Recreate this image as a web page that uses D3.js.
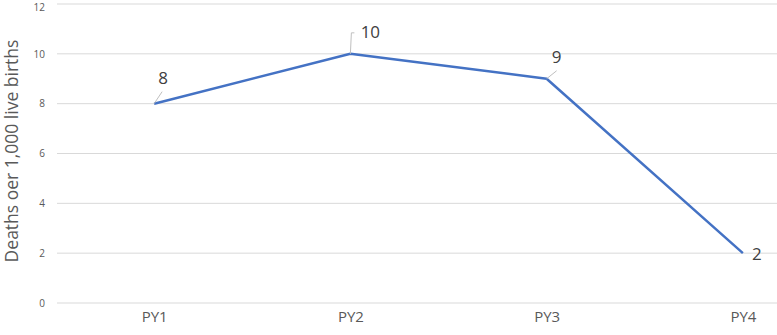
<!DOCTYPE html>
<html>
<head>
<script src="https://d3js.org/d3.v7.min.js"></script>
<style>
  body { margin: 0; background: #fff; }
  text { font-family: "Open Sans", Lato, sans-serif; }
</style>
</head>
<body>
<svg class="chart" width="777" height="335"></svg>
<script>
    var categories = ["PY1", "PY2", "PY3", "PY4"]
    var values = [8, 10, 9, 2]
    var yTicks = [0, 2, 4, 6, 8, 10, 12]

    var svg = d3.select("svg")

    var x = d3.scalePoint()
    .domain(categories)
    .range([56, 841])
    .padding(0.5)

    var y = d3.scaleLinear()
    .domain([0, 12])
    .range([303, 4])

    // gridlines
    svg.append("g").selectAll("line")
    .data(yTicks)
    .enter()
    .append("line")
    .attr("x1", 57).attr("x2", 777)
    .attr("y1", d => y(d)).attr("y2", d => y(d))
    .style("stroke", "#d9d9d9")
    .style("stroke-width", 1)

    // y axis labels
    var yAxis = d3.axisLeft(y).tickValues(yTicks).tickSize(0).tickPadding(0)
    var gy = svg.append("g").attr("transform", "translate(45,0)").call(yAxis)
    gy.select(".domain").remove()
    gy.selectAll("text").style("fill", "#595959").style("font-size", "10px")
    gy.selectAll("text").filter(d => d == 12).attr("dy", "0.6em")

    // x axis labels
    var xAxis = d3.axisBottom(x).tickSize(0).tickPadding(0)
    var gx = svg.append("g").attr("transform", "translate(0,311)").call(xAxis)
    gx.select(".domain").remove()
    gx.selectAll("text").style("fill", "#595959").style("font-size", "15px")

    // y title
    svg.append("text")
    .attr("transform", "translate(18,151) rotate(-90)")
    .attr("text-anchor", "middle")
    .style("fill", "#595959")
    .style("font-size", "17.5px")
    .text("Deaths oer 1,000 live births")

    var pts = categories.map((c, i) => ({cat: c, v: values[i]}))

    var line = d3.line().x(d => x(d.cat)).y(d => y(d.v))
    svg.append("path")
    .datum(pts)
    .attr("d", line)
    .style("fill", "none")
    .style("stroke", "#4472c4")
    .style("stroke-width", 2.5)
    .style("stroke-linejoin", "round")

    // data labels with leader lines
    var labelOff = [
        {dx: 9, dy: -26, anchor: "middle", leader: d => `M${x(d.cat)},${y(d.v)}L${x(d.cat) + 8},${y(d.v) - 12}`},
        {dx: 20, dy: -22, anchor: "middle", leader: d => `M${x(d.cat)},${y(d.v)}L${x(d.cat) + 1},${y(d.v) - 21}L${x(d.cat) + 4},${y(d.v) - 21}`},
        {dx: 10, dy: -22, anchor: "middle", leader: d => `M${x(d.cat)},${y(d.v)}L${x(d.cat) + 10},${y(d.v) - 8}`},
        {dx: 9, dy: 1, anchor: "start", leader: null}
    ]

    pts.forEach((d, i) => {
        var o = labelOff[i]
        if (o.leader) {
            svg.append("path")
            .attr("d", o.leader(d))
            .style("fill", "none")
            .style("stroke", "#bfbfbf")
            .style("stroke-width", 1)
        }
        svg.append("text")
        .attr("x", x(d.cat) + o.dx)
        .attr("y", y(d.v) + o.dy)
        .attr("dy", "0.35em")
        .attr("text-anchor", o.anchor)
        .style("fill", "#404040")
        .style("font-size", "17px")
        .text(d.v)
    })
</script>
</body>
</html>
